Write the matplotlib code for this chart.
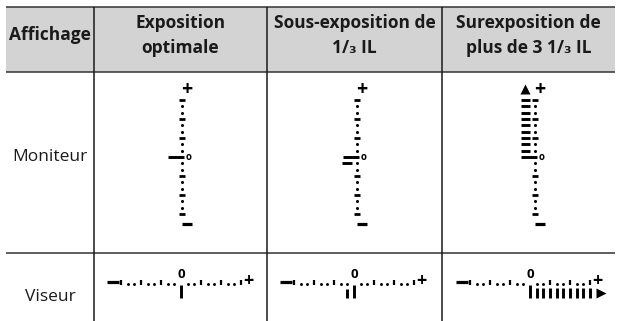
import matplotlib.pyplot as plt

# textes du tableau
headers = ['Affichage', 'Exposition\noptimale', 'Sous-exposition de\n1/₃ IL', 'Surexposition de\nplus de 3 1/₃ IL']
row_labels = ['Moniteur', 'Viseur']

# indicateur d'exposition (en pas de 1/3 IL), un par colonne
expo_steps = [0, -1, 10]     # 10 = au-dela de +3 IL
scale_steps = list(range(-9, 10))

# mise en page (pixels)
col_edges = [6, 94, 267, 442, 615]
row_edges = [7, 72, 253, 321]
mon_x = [182, 357, 535]
vis_x = [181, 354, 530]
mon_zero_y = 157
vis_y = 284
mon_step = 6.33
vis_step = 6.67

plt.rcParams['font.family'] = ['Open Sans', 'DejaVu Sans']
fig = plt.figure(figsize=(6.18, 3.21), dpi=100)
ax = fig.add_axes([0, 0, 1, 1])
ax.set_xlim(0, 618)
ax.set_ylim(321, 0)
ax.axis('off')

# fond de l'entete et traits
ax.fill_between([col_edges[0], col_edges[-1]], row_edges[0], row_edges[1], color='#d3d3d3', lw=0)
ax.hlines([row_edges[0], row_edges[1], row_edges[2]], col_edges[0], col_edges[-1], color='#333333', lw=1.1)
ax.vlines(col_edges[1:4], row_edges[0], 321, color='#1a1a1a', lw=1.1)

# entetes
for i, h in enumerate(headers):
    cx = (col_edges[i] + col_edges[i + 1]) / 2
    ax.text(cx, 35.5, h, ha='center', va='center', fontsize=12.5, fontweight='bold',
            linespacing=1.5, color='#1a1a1a')

for j, lab in enumerate(row_labels):
    cy = [157, 297][j]
    ax.text(50, cy, lab, ha='center', va='center', fontsize=12.5, color='#1a1a1a')

bk = '#000000'
for c in range(3):
    # moniteur (echelle verticale)
    tx = mon_x[c]
    for s in scale_steps:
        y = mon_zero_y - s * mon_step
        if s == 0:
            continue
        if s % 3 == 0:
            ax.hlines(y, tx - 2.7, tx + 2.7, color=bk, lw=2)
        else:
            ax.plot(tx, y, 'o', ms=2.2, color=bk, mec='none')
    ax.hlines(mon_zero_y, tx - 14, tx + 1.5, color=bk, lw=2.1)
    ax.text(tx + 6.5, mon_zero_y, 'o', ha='center', va='center', fontsize=7, fontweight='bold', color=bk)
    ax.text(tx + 5, mon_zero_y - 10.6 * mon_step, '+', ha='center', va='center', fontsize=14, fontweight='bold', color=bk)
    ax.hlines(mon_zero_y + 10.6 * mon_step, tx + 0, tx + 10, color=bk, lw=2.3)
    e = expo_steps[c]
    if e < 0:
        for s in range(e, 0):
            ax.hlines(mon_zero_y - s * mon_step, tx - 15, tx - 5, color=bk, lw=2.1)
    elif e > 0:
        for s in range(1, min(e, 9) + 1):
            ax.hlines(mon_zero_y - s * mon_step, tx - 14, tx - 5, color=bk, lw=2.1)
        if e > 9:
            ax.plot(tx - 10, mon_zero_y - 10.7 * mon_step, '^', ms=7, color=bk, mec='none')

    # viseur (echelle horizontale)
    zx = vis_x[c]
    for s in scale_steps:
        x = zx + s * vis_step
        if s == 0:
            continue
        if s % 3 == 0:
            ax.vlines(x, vis_y - 4, vis_y + 1, color=bk, lw=1.6)
        else:
            ax.plot(x, vis_y, 'o', ms=2.1, color=bk, mec='none')
    ax.vlines(zx, vis_y + 1, vis_y + 14, color=bk, lw=2.1)
    ax.text(zx, vis_y - 9.5, '0', ha='center', va='center', fontsize=9.5, fontweight='bold', color=bk)
    ax.hlines(vis_y - 2, zx - 11.1 * vis_step, zx - 9.3 * vis_step, color=bk, lw=2.3)
    ax.text(zx + 10.1 * vis_step, vis_y - 3, '+', ha='center', va='center', fontsize=13, fontweight='bold', color=bk)
    if e < 0:
        for s in range(e, 0):
            ax.vlines(zx + s * vis_step, vis_y + 5, vis_y + 14, color=bk, lw=2.1)
    elif e > 0:
        for s in range(1, min(e, 9) + 1):
            ax.vlines(zx + s * vis_step, vis_y + 4, vis_y + 14, color=bk, lw=2.1)
        if e > 9:
            ax.plot(zx + 10.6 * vis_step, vis_y + 9, '>', ms=7, color=bk, mec='none')

fig.savefig('out.png', dpi=100)
